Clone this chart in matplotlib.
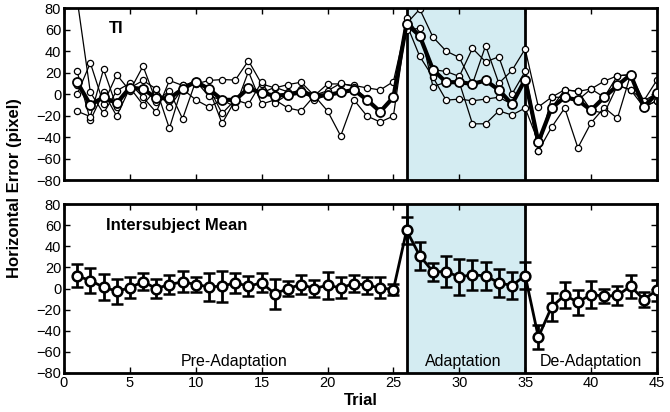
import numpy as np
import matplotlib
matplotlib.use("Agg")
import matplotlib.pyplot as plt

plt.rcParams['font.family'] = ['Liberation Sans', 'DejaVu Sans']

trials = np.arange(1, 46)

# subject TI: individual runs (thin) and subject mean (thick)
ti_run_a = [88, 1.6, -18, 3, 10, -3, -17, 12.6, 8, 9.4, 12.6, 13.5, 13, 31, 9.4,
            5.7, 8.8, 11, -1.6, 9.4, 9.4, 8, 5.7, 3.8, 11.6, 65.5, 79, 53, 40, 34,
            9.4, 45, 10, 22, 41.9, -12, -3, 4, 2.5, 4.7, 12, 17, 18, -6.3, 13]
ti_run_b = [21, -24.5, 1.6, -20.5, 5.7, 12.6, 4.7, -12, 5, 11, 4.7, -27.4, -5.4, 5.4, 1,
            -1.6, -1, 3, -5.4, -1, 1.6, 4.7, -5.4, -16.4, -3, 71, 54, 22.7, 21, 16.4,
            42.5, 30, 34.6, 0, 21, -44.7, -13, -3, -5.7, -15, -3, 8, 4, -12, 0.6]
ti_run_c = [0, 29, -9, 18, 3, 26, -7, 3, -23, 12, -2, -5.4, -12, 21, -9.4,
            -5.4, -13, -15.7, -1.6, -15.7, -39, -5.4, -20.5, -26, -20.5, 65, 35, 15.7, -5.7, -4.7,
            -6.3, -4.7, -3, -9.4, 13.5, -53, -31, -13, -50, -26.8, -12.6, -22.7, 18, -12, -6.3]
ti_run_d = [-16, -21, 23, -12, 6, -10, 4.7, -32, 8, 11.6, 5.7, -18, -5.4, -9.4, 11,
            -8, -0.6, 4.7, -1, 3, 10, 7, -5.4, -16, -3, 60, 61, 7, 11, 11,
            -27.7, -27.7, -15.7, -19.5, -13, -44.7, -13, 4, 2.5, -15, -18, 8, 4, -6.3, 0.6]
ti_run_e = [8, -10, -3, -8, 7, 4.7, -3, -4, 4.7, -5.4, -12, -5.4, -5, 5.4, 1,
            6.3, 2, 1.6, -2, -1, 1.6, 3.8, -4, -16.4, -3, 66, 54, 22.7, 11, 11,
            9.4, 12.6, 3.8, -9.4, 13.5, -53, -3, -3, -5.7, 4.7, -3, 17, 18, -12, -6.3]
ti_mean = [11, -10, -3, -8.5, 6, 4.7, -3.8, -4, 4.7, 11.6, 4.7, -5.4, -5.4, 5.4, 1,
           -1.6, -0.6, 1.6, -1.6, -1, 1.6, 3.8, -5.4, -16.4, -3, 65.5, 54, 22.7, 11, 11,
           9.4, 12.6, 3.8, -9.4, 13.5, -44.7, -13, -3, -5.7, -15, -3, 8, 18, -12, 0.6]

# intersubject mean and error
group_mean = [12, 7.5, 1.3, -2.5, 0.6, 6.6, 0, 3.8, 6.3, 3.8, 1.6, 2.2, 5.4, 2.2, 5.4,
              -5, 0, 3.8, 0, 3.1, 0.6, 4.7, 3.1, 0.6, -1, 55, 31, 16, 16, 11,
              13, 12, 5.4, 2.8, 12.3, -46, -17.6, -6.3, -13, -5.7, -7.2, -6.6, 2.2, -10.4, -1.6]
group_err = [11, 12, 12.5, 11.8, 10, 8, 9, 9, 10, 7.5, 13, 14.5, 9.7, 9.5, 9,
             14, 7.5, 8.7, 8.5, 12.8, 10, 7.7, 7.9, 10, 5, 12.4, 13, 8.5, 15, 17,
             14, 13, 13, 13, 12.5, 11.5, 13, 12.5, 12, 12.6, 6.3, 9, 11, 7, 10]

adapt_start, adapt_end = 26, 35
phase_labels = ['Pre-Adaptation', 'Adaptation', 'De-Adaptation']
phase_centers = [12.93, 30.3, 40.0]

fig = plt.figure(figsize=(6.7, 4.12), dpi=100)
ax1 = fig.add_axes([0.0955, 0.563, 0.885, 0.4175])
ax2 = fig.add_axes([0.0955, 0.0947, 0.885, 0.41])


def style_axis(ax):
    ax.set_xlim(0, 45)
    ax.set_ylim(-80, 80)
    ax.set_yticks(np.arange(-80, 81, 20))
    ax.set_xticks(np.arange(0, 46, 5))
    ax.tick_params(direction='in', top=True, right=True, labelsize=10.5,
                   length=4, width=1, pad=2)
    for s in ax.spines.values():
        s.set_linewidth(2)
    ax.axvspan(adapt_start, adapt_end, color='#d4ecf2', zorder=0, lw=0)
    for xv in (adapt_start, adapt_end):
        ax.axvline(xv, color='black', lw=2, zorder=1)


style_axis(ax1)
style_axis(ax2)
ax1.tick_params(labelbottom=False)

for run in (ti_run_a, ti_run_b, ti_run_c, ti_run_d, ti_run_e):
    ax1.plot(trials, run, color='black', lw=0.9, marker='o', ms=4.5,
             mfc='white', mec='black', mew=0.9, zorder=2)
ax1.plot(trials, ti_mean, color='black', lw=3, marker='o', ms=6.5,
         mfc='white', mec='black', mew=1.3, zorder=3)
ax1.text(3.4, 61, 'TI', fontsize=12, fontweight='bold', va='center')

ax2.errorbar(trials, group_mean, yerr=group_err, color='black', lw=2,
             elinewidth=2, capsize=4.5, capthick=2, marker='o', ms=7,
             mfc='white', mec='black', mew=1.8, zorder=3)
ax2.text(3.2, 60, 'Intersubject Mean', fontsize=12, fontweight='bold', va='center')
for lab, xc in zip(phase_labels, phase_centers):
    ax2.text(xc, -69, lab, fontsize=11.5, ha='center', va='center')

ax2.set_xlabel('Trial', fontsize=12, fontweight='bold', labelpad=2)
fig.text(0.022, 0.544, 'Horizontal Error (pixel)', rotation=90, fontsize=12,
         fontweight='bold', ha='center', va='center')

fig.savefig('out.png', dpi=100)
